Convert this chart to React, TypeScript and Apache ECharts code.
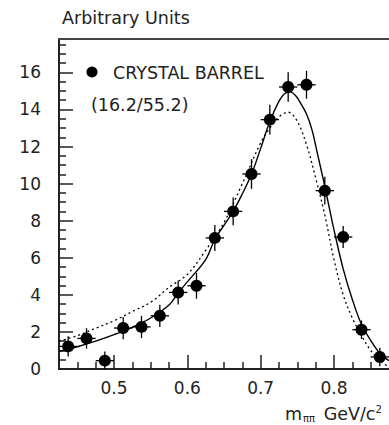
import React, { useEffect, useRef } from "react";
import * as echarts from "echarts";

// Measured points (bin centres, GeV/c^2), values and vertical errors
const massBins = [0.4375, 0.4625, 0.4875, 0.5125, 0.5375, 0.5625, 0.5875, 0.6125, 0.6375, 0.6625, 0.6875, 0.7125, 0.7375, 0.7625, 0.7875, 0.8125, 0.8375, 0.8625];
const counts = [1.22, 1.65, 0.45, 2.21, 2.27, 2.87, 4.13, 4.49, 7.07, 8.5, 10.52, 13.45, 15.21, 15.33, 9.62, 7.12, 2.12, 0.65];
const errors = [0.55, 0.55, 0.5, 0.6, 0.6, 0.6, 0.65, 0.7, 0.7, 0.75, 0.8, 0.8, 0.8, 0.75, 0.75, 0.6, 0.5, 0.5];
const binHalfWidth = 0.0125;

// Solid fit curve
const fitX = [0.425, 0.45, 0.475, 0.5, 0.525, 0.55, 0.575, 0.5875, 0.6, 0.625, 0.6375, 0.65, 0.6625, 0.675, 0.6875, 0.7, 0.7125, 0.725, 0.7325, 0.74, 0.7475, 0.755, 0.7625, 0.77, 0.7775, 0.785, 0.7925, 0.8, 0.8125, 0.825, 0.8375, 0.85, 0.8625, 0.875];
const fitY = [0.95, 1.2, 1.5, 1.85, 2.25, 2.75, 3.45, 4.1, 4.7, 5.9, 7.0, 7.75, 8.5, 9.45, 10.5, 11.9, 13.35, 14.45, 14.85, 14.95, 14.75, 14.3, 13.75, 12.9, 11.6, 10.3, 8.9, 7.5, 5.4, 3.75, 2.4, 1.55, 0.85, 0.45];

// Dotted curve
const dotX = [0.425, 0.45, 0.475, 0.5, 0.525, 0.55, 0.575, 0.6, 0.625, 0.65, 0.675, 0.7, 0.7125, 0.725, 0.7375, 0.75, 0.7625, 0.775, 0.7875, 0.8, 0.8125, 0.825, 0.8375, 0.85, 0.8625, 0.875];
const dotY = [1.5, 1.8, 2.2, 2.6, 3.1, 3.6, 4.4, 5.1, 6.4, 7.9, 10.0, 12.2, 13.0, 13.6, 13.85, 13.35, 12.1, 10.3, 8.3, 5.9, 4.0, 2.75, 1.8, 1.0, 0.45, 0.1];

// Axis ticks
const xMajorTicks = [0.5, 0.6, 0.7, 0.8];
const xMinorTicks = [0.45, 0.475, 0.525, 0.55, 0.575, 0.625, 0.65, 0.675, 0.725, 0.75, 0.775, 0.825, 0.85];
const yMajorTicks = [0, 2, 4, 6, 8, 10, 12, 14, 16];
const yMinorTicks = [0.5, 1, 1.5, 2.5, 3, 3.5, 4.5, 5, 5.5, 6.5, 7, 7.5, 8.5, 9, 9.5, 10.5, 11, 11.5, 12.5, 13, 13.5, 14.5, 15, 15.5, 16.5, 17, 17.5];

const X_MIN = 0.425;
const X_MAX = 0.875;
const Y_MIN = 0;
const Y_MAX = 17.8;

const FONT = "DejaVu Sans";
const INK = "#222222";

export default function App() {
  const ref = useRef<HTMLDivElement>(null);

  useEffect(() => {
    if (!ref.current) return;
    const chart = echarts.init(ref.current, undefined, { renderer: "svg" });

    const axisBase = (extra: any) => ({
      type: "value",
      splitLine: { show: false },
      ...extra,
    });

    const option: any = {
      animation: false,
      backgroundColor: "#ffffff",
      grid: { left: 59, top: 39, right: 0, bottom: 56, containLabel: false },
      xAxis: [
        axisBase({
          min: X_MIN,
          max: X_MAX,
          position: "bottom",
          axisLine: { show: true, lineStyle: { color: INK, width: 2 } },
          axisTick: { show: true, inside: true, length: 14, customValues: xMajorTicks, lineStyle: { color: INK, width: 1.5 } },
          axisLabel: {
            show: true,
            customValues: xMajorTicks,
            formatter: (v: number) => v.toFixed(1),
            fontFamily: FONT,
            fontSize: 17,
            color: INK,
            margin: 10,
          },
        }),
        axisBase({
          min: X_MIN,
          max: X_MAX,
          position: "bottom",
          axisLine: { show: false },
          axisTick: { show: true, inside: true, length: 7, customValues: xMinorTicks, lineStyle: { color: INK, width: 1.5 } },
          axisLabel: { show: false },
        }),
        axisBase({
          min: X_MIN,
          max: X_MAX,
          position: "top",
          axisLine: { show: true, lineStyle: { color: "#444", width: 2 } },
          axisTick: { show: false },
          axisLabel: { show: false },
        }),
      ],
      yAxis: [
        axisBase({
          min: Y_MIN,
          max: Y_MAX,
          position: "left",
          axisLine: { show: true, lineStyle: { color: INK, width: 2 } },
          axisTick: { show: true, inside: true, length: 14, customValues: yMajorTicks, lineStyle: { color: INK, width: 1.5 } },
          axisLabel: {
            show: true,
            customValues: yMajorTicks,
            fontFamily: FONT,
            fontSize: 17,
            color: INK,
            margin: 18,
          },
        }),
        axisBase({
          min: Y_MIN,
          max: Y_MAX,
          position: "left",
          axisLine: { show: false },
          axisTick: { show: true, inside: true, length: 7, customValues: yMinorTicks, lineStyle: { color: INK, width: 1.5 } },
          axisLabel: { show: false },
        }),
      ],
      graphic: [
        {
          type: "text",
          x: 62,
          y: 18,
          style: { text: "Arbitrary Units", font: `17.5px "${FONT}"`, fill: INK, verticalAlign: "middle", align: "left" },
        },
        {
          type: "circle",
          shape: { cx: 92, cy: 72, r: 5.5 },
          style: { fill: "#000" },
        },
        {
          type: "text",
          x: 113,
          y: 72.5,
          style: { text: "CRYSTAL BARREL", font: `17.5px "${FONT}"`, fill: INK, verticalAlign: "middle", align: "left" },
        },
        {
          type: "text",
          x: 91,
          y: 105,
          style: { text: "(16.2/55.2)", font: `17.5px "${FONT}"`, fill: INK, verticalAlign: "middle", align: "left" },
        },
        {
          type: "text",
          x: 285,
          y: 414,
          style: {
            text: "{m|m}{s|ππ}{g| GeV/c}{p|2}",
            verticalAlign: "middle",
            align: "left",
            rich: {
              m: { fontFamily: FONT, fontSize: 17.5, fill: INK, color: INK },
              g: { fontFamily: FONT, fontSize: 17.5, fill: INK, color: INK, padding: [0, 0, 0, 3] },
              s: { fontFamily: FONT, fontSize: 10, fill: INK, color: INK, padding: [8, 0, 0, 1] },
              p: { fontFamily: FONT, fontSize: 10, fill: INK, color: INK, padding: [0, 0, 10, 0] },
            },
          },
        },
      ],
      series: [
        {
          type: "line",
          xAxisIndex: 0,
          yAxisIndex: 0,
          data: dotX.map((x, i) => [x, dotY[i]]),
          showSymbol: false,
          smooth: 0.35,
          lineStyle: { color: "#000", width: 1.3, type: [2, 3] },
          clip: true,
          z: 2,
        },
        {
          type: "line",
          xAxisIndex: 0,
          yAxisIndex: 0,
          data: fitX.map((x, i) => [x, fitY[i]]),
          showSymbol: false,
          smooth: 0.35,
          lineStyle: { color: "#000", width: 1.4 },
          clip: true,
          z: 3,
        },
        {
          type: "custom",
          xAxisIndex: 0,
          yAxisIndex: 0,
          clip: true,
          data: massBins.map((x, i) => [x, counts[i], errors[i]]),
          encode: { x: 0, y: 1 },
          renderItem: (_params: any, api: any) => {
            const x = api.value(0);
            const y = api.value(1);
            const e = api.value(2);
            const c = api.coord([x, y]);
            const top = api.coord([x, y + e]);
            const bot = api.coord([x, Math.max(0, y - e)]);
            const l = api.coord([x - binHalfWidth, y]);
            const r = api.coord([x + binHalfWidth, y]);
            const st = { stroke: "#000", lineWidth: 1.3 };
            return {
              type: "group",
              children: [
                { type: "line", shape: { x1: c[0], y1: top[1], x2: c[0], y2: bot[1] }, style: st },
                { type: "line", shape: { x1: l[0], y1: c[1], x2: r[0], y2: c[1] }, style: st },
              ],
            };
          },
          z: 4,
        },
        {
          type: "scatter",
          xAxisIndex: 0,
          yAxisIndex: 0,
          data: massBins.map((x, i) => [x, counts[i]]),
          symbol: "circle",
          symbolSize: 12,
          itemStyle: { color: "#000", opacity: 1 },
          z: 5,
        },
      ],
    };

    chart.setOption(option);
    return () => chart.dispose();
  }, []);

  return (
    <div
      ref={ref}
      style={{ position: "fixed", left: 0, top: 0, width: 389, height: 425, background: "#fff" }}
    />
  );
}
